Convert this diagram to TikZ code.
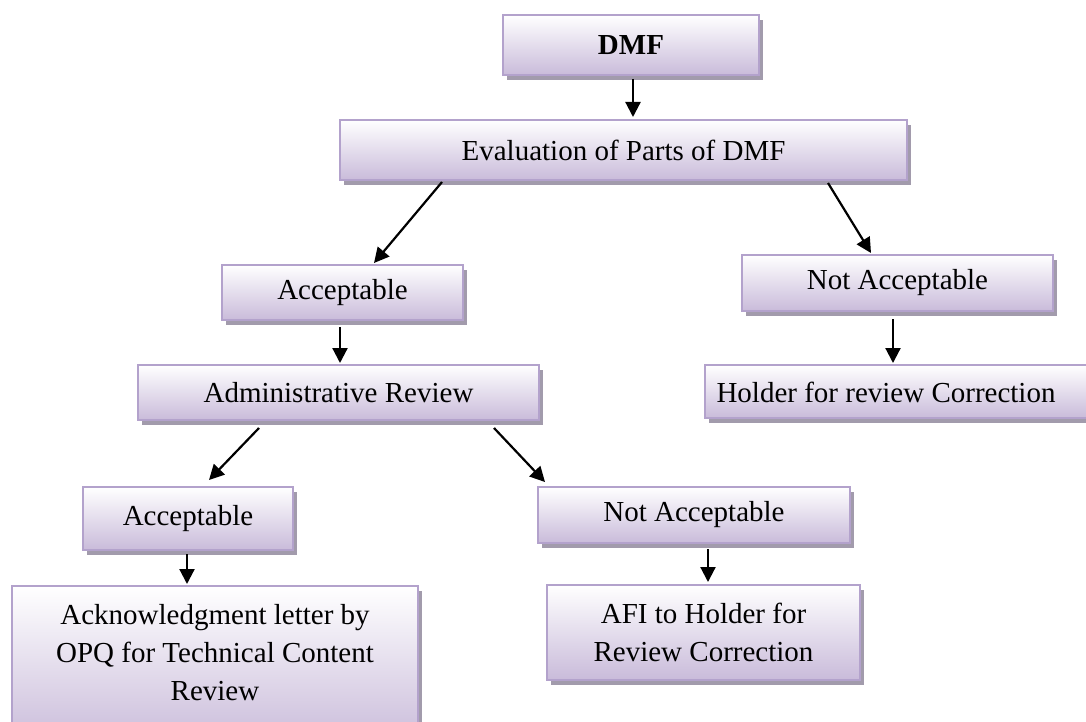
\documentclass[tikz,border=0pt]{standalone}
\usepackage{fontspec}
\setmainfont{Liberation Serif}
\usetikzlibrary{arrows.meta,calc,shadows}
\definecolor{boxborder}{HTML}{B3A2CC}
\definecolor{boxbottom}{HTML}{C9BBDA}
\definecolor{shadowgray}{HTML}{A29BAC}
\tikzset{
  fbox/.style={draw=boxborder, line width=2pt, top color=white, bottom color=boxbottom,
    drop shadow={shadow xshift=4pt, shadow yshift=-5pt, fill=shadowgray, opacity=1},
    inner sep=0pt, align=center, font=\fontsize{29}{38}\selectfont},
  plain/.style={inner sep=0pt, align=center, font=\fontsize{29}{38}\selectfont},
  conn/.style={line width=2.2pt, -{Triangle[length=15pt,width=15pt]}}
}
\begin{document}
\begin{tikzpicture}[x=1pt,y=-1pt]
\useasboundingbox (0,0) rectangle (1086,722);
\clip (0,0) rectangle (1086,722);
\node[fbox, minimum width=256pt, minimum height=60pt] (dmf) at (631,45) {\textbf{DMF}};
\node[fbox, minimum width=567pt, minimum height=60pt] (eval) at (623.5,150) {Evaluation of Parts of DMF};
\node[fbox, minimum width=241pt, minimum height=55pt] (acc1) at (342.5,292.5) {Acceptable};
\node[fbox, minimum width=311pt, minimum height=56pt] (nacc1) at (897.5,283) {Not Acceptable};
\node[fbox, minimum width=401pt, minimum height=55pt] (admin) at (338.5,392.5) {Administrative Review};
\node[fbox, minimum width=420pt, minimum height=53pt] (holder) at (915,391.5) {};
\node[plain] (holdertext) at (886,392) {Holder for review Correction};
\node[fbox, minimum width=210pt, minimum height=63pt] (acc2) at (188,518.5) {Acceptable};
\node[fbox, minimum width=406pt, minimum height=160pt] (ack) at (215,666) {};
\node[plain] (acktext) at (215,653) {Acknowledgment letter by\\OPQ for Technical Content\\Review};
\node[fbox, minimum width=312pt, minimum height=56pt] (nacc2) at (694,515) {Not Acceptable};
\node[fbox, minimum width=313pt, minimum height=95pt] (afi) at (703.5,632.5) {AFI to Holder for\\Review Correction};

\draw[conn] ($(dmf.south)+(2,3)$) -- ($(eval.north)+(9.5,-2)$);
\draw[conn] ($(eval.south west)+(103,1)$) -- ($(acc1.north west)+(153,-1)$);
\draw[conn] ($(eval.south west)+(489,2)$) -- ($(nacc1.north west)+(130,-1)$);
\draw[conn] ($(acc1.south west)+(119,6)$) -- ($(admin.north west)+(203,-1)$);
\draw[conn] ($(nacc1.south west)+(152,7)$) -- ($(holder.north west)+(189,-1)$);
\draw[conn] ($(admin.south west)+(122,7)$) -- ($(acc2.north west)+(127,-6)$);
\draw[conn] ($(admin.south west)+(357,7)$) -- ($(nacc2.north west)+(8,-4)$);
\draw[conn] ($(acc2.south west)+(105,3)$) -- ($(ack.north west)+(176,-1)$);
\draw[conn] ($(nacc2.south west)+(171,5)$) -- ($(afi.north west)+(162,-2)$);
\end{tikzpicture}
\end{document}
